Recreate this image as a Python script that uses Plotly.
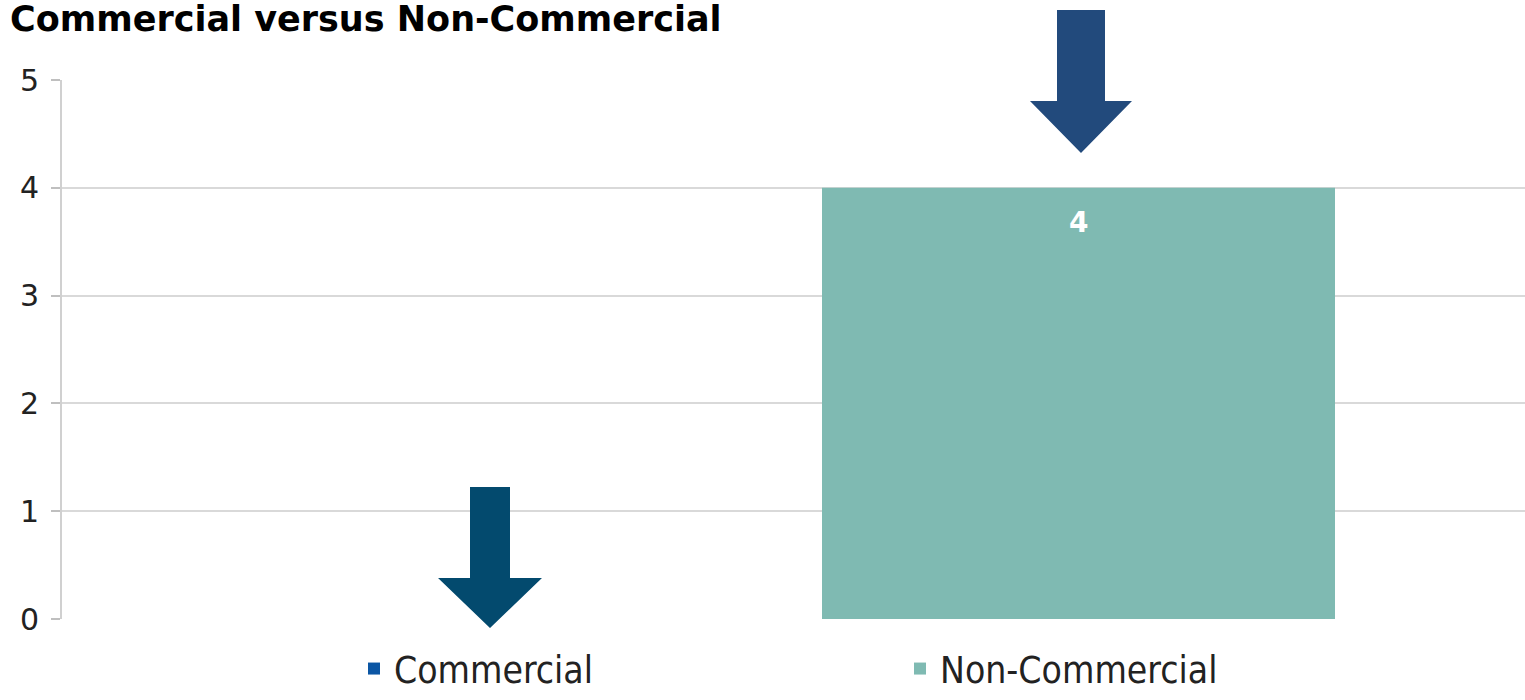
import plotly.graph_objects as go

# Series shown in the chart (one bar per series, single group)
series_names = ["Commercial", "Non-Commercial"]
series_counts = [0, 4]
series_colors = ["#0B56A4", "#7FBAB2"]
group_label = ["Total"]

y_ticks = [0, 1, 2, 3, 4, 5]

W, H = 1525, 700
M_L, M_R, M_T, M_B = 62, 0, 80, 81
PW, PH = W - M_L - M_R, H - M_T - M_B


def px_to_paper(px, py):
    return (px - M_L) / PW, (H - M_B - py) / PH


def arrow_path(cx, top, head_y, tip, shaft_half, head_half):
    pts = [
        (cx - shaft_half, top), (cx + shaft_half, top),
        (cx + shaft_half, head_y), (cx + head_half, head_y),
        (cx, tip),
        (cx - head_half, head_y), (cx - shaft_half, head_y),
    ]
    conv = [px_to_paper(x, y) for x, y in pts]
    return "M" + " L".join(f"{x:.5f},{y:.5f}" for x, y in conv) + " Z"


fig = go.Figure()
for name, val, col in zip(series_names, series_counts, series_colors):
    fig.add_trace(go.Bar(
        x=group_label, y=[val], name=name,
        marker=dict(color=col, line=dict(width=0)),
    ))

# value label inside the top of the Non-Commercial bar
fig.add_annotation(
    x=0.16875, y=series_counts[1], xref="x", yref="y",
    text=f"<b>{series_counts[1]}</b>", showarrow=False,
    yshift=-35, font=dict(family="DejaVu Sans", size=28, color="white"),
)

# pointer arrows
fig.add_shape(type="path", xref="paper", yref="paper", layer="above",
              path=arrow_path(490, 487, 578, 628, 20, 52),
              fillcolor="#034A6E", line=dict(width=0))
fig.add_shape(type="path", xref="paper", yref="paper", layer="above",
              path=arrow_path(1081, 10, 101, 153, 24, 51),
              fillcolor="#224A7C", line=dict(width=0))

fig.update_layout(
    width=W, height=H,
    margin=dict(l=M_L, r=M_R, t=M_T, b=M_B),
    paper_bgcolor="white", plot_bgcolor="white",
    barmode="group", bargap=0.325, bargroupgap=0,
    title=dict(
        text="<b>Commercial versus Non-Commercial</b>",
        x=10 / W, xanchor="left", y=1 - 6 / H, yanchor="top",
        pad=dict(t=0, b=0, l=0, r=0),
        font=dict(family="DejaVu Sans", size=35, color="black"),
    ),
    showlegend=True,
    legend=dict(
        orientation="h", xref="paper", x=(354 - M_L) / PW, xanchor="left",
        yref="container", y=0, yanchor="bottom",
        entrywidth=501, entrywidthmode="pixels",
        font=dict(family="DejaVu Sans Condensed, DejaVu Sans", size=37, color="#222222"),
        bgcolor="rgba(0,0,0,0)", traceorder="normal",
    ),
    xaxis=dict(
        type="category", range=[-0.5, -0.5 + PW / 1520],
        showticklabels=False, showgrid=False, zeroline=False,
        showline=False, ticks="", fixedrange=True,
    ),
    yaxis=dict(
        range=[0, 5], tickvals=y_ticks,
        showgrid=True, gridcolor="#D9D9D9", gridwidth=2,
        zeroline=False, showline=True, linecolor="#D0D0D0", linewidth=2,
        ticks="outside", ticklen=9, tickcolor="#BFBFBF", tickwidth=2,
        tickfont=dict(family="DejaVu Sans", size=30, color="#222222"),
        ticklabelstandoff=6,
    ),
)

fig.write_html("out.html")
